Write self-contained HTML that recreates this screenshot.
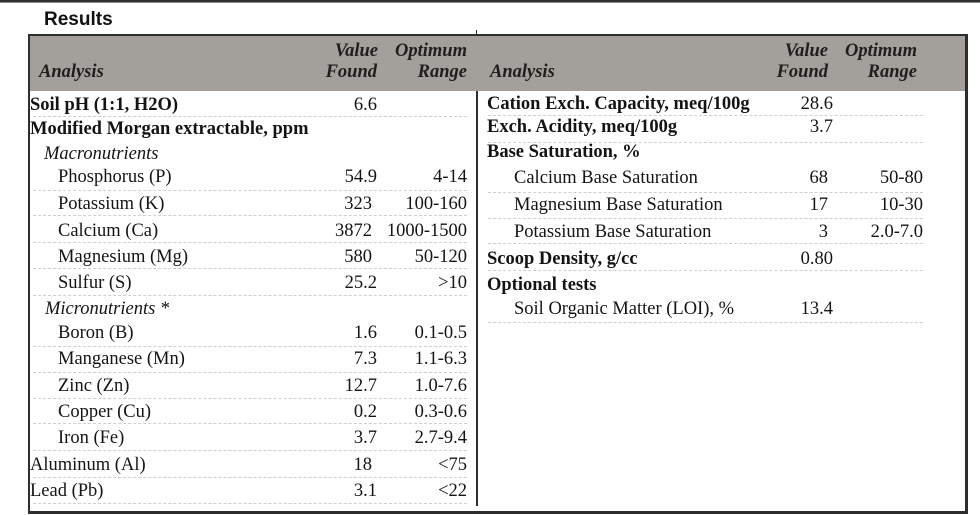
<!DOCTYPE html>
<html>
<head>
<meta charset="utf-8">
<style>
  html,body{margin:0;padding:0;background:#fff;}
  body{width:980px;height:515px;position:relative;overflow:hidden;
       font-family:"Liberation Serif","Times New Roman",serif;color:#141414;}
  .a{position:absolute;white-space:nowrap;font-size:18.5px;line-height:26px;height:26px;}
  .b{font-weight:bold;}
  .i{font-style:italic;}
  .h{font-weight:bold;font-style:italic;color:#1e1e1e;}
  .ln{position:absolute;height:0;border-top:1px dashed #cfcfcf;}
  .blk{position:absolute;background:#2e2e2e;}
</style>
</head>
<body>
<!-- top rule -->
<div class="blk" style="left:0;top:0;width:980px;height:2px;"></div>
<div style="position:absolute;left:0;top:2px;width:980px;height:1px;background:#8a8a8a;"></div>

<!-- title -->
<div style="position:absolute;left:44px;top:10px;font-family:'Liberation Sans',Arial,sans-serif;font-weight:bold;font-size:19px;line-height:20px;color:#111;">Results</div>

<!-- header band -->
<div style="position:absolute;left:29px;top:36px;width:937px;height:55px;background:#a39f9a;"></div>

<!-- box borders -->
<div class="blk" style="left:28px;top:34px;width:940px;height:2px;"></div>
<div class="blk" style="left:28px;top:34px;width:2px;height:479px;"></div>
<div class="blk" style="left:965px;top:34px;width:3px;height:480px;"></div>
<div class="blk" style="left:28px;top:511px;width:940px;height:3px;"></div>
<div class="blk" style="left:476px;top:91px;width:2px;height:415px;"></div>
<div class="blk" style="left:476px;top:30px;width:1px;height:5px;"></div>

<!-- header text left -->
<div class="a h" style="left:39px;top:59px;">Analysis</div>
<div class="a h" style="right:602px;top:38px;">Value</div>
<div class="a h" style="right:603px;top:59px;">Found</div>
<div class="a h" style="right:513px;top:38px;">Optimum</div>
<div class="a h" style="right:513px;top:59px;">Range</div>

<!-- header text right -->
<div class="a h" style="left:490px;top:59px;">Analysis</div>
<div class="a h" style="right:152px;top:38px;">Value</div>
<div class="a h" style="right:152px;top:59px;">Found</div>
<div class="a h" style="right:63px;top:38px;">Optimum</div>
<div class="a h" style="right:63px;top:59px;">Range</div>

<!-- LEFT ROWS -->
<div class="a b" style="left:30px;top:92px;">Soil pH (1:1, H2O)</div>
<div class="a" style="right:603px;top:92px;">6.6</div>
<div class="ln" style="left:33px;width:434px;top:116px;"></div>

<div class="a b" style="left:30px;top:116px;">Modified Morgan extractable, ppm</div>

<div class="a i" style="left:44px;top:141px;">Macronutrients</div>

<div class="a" style="left:58px;top:164px;">Phosphorus (P)</div>
<div class="a" style="right:603px;top:164px;">54.9</div>
<div class="a" style="right:513px;top:164px;">4-14</div>
<div class="ln" style="left:33px;width:434px;top:190px;"></div>

<div class="a" style="left:58px;top:191px;">Potassium (K)</div>
<div class="a" style="right:608px;top:191px;">323</div>
<div class="a" style="right:513px;top:191px;">100-160</div>
<div class="ln" style="left:33px;width:434px;top:215px;"></div>

<div class="a" style="left:58px;top:218px;">Calcium (Ca)</div>
<div class="a" style="right:608px;top:218px;">3872</div>
<div class="a" style="right:513px;top:218px;">1000-1500</div>
<div class="ln" style="left:33px;width:434px;top:242px;"></div>

<div class="a" style="left:58px;top:244px;">Magnesium (Mg)</div>
<div class="a" style="right:608px;top:244px;">580</div>
<div class="a" style="right:513px;top:244px;">50-120</div>
<div class="ln" style="left:33px;width:434px;top:268px;"></div>

<div class="a" style="left:58px;top:270px;">Sulfur (S)</div>
<div class="a" style="right:603px;top:270px;">25.2</div>
<div class="a" style="right:513px;top:270px;">&gt;10</div>
<div class="ln" style="left:33px;width:434px;top:295px;"></div>

<div class="a i" style="left:45px;top:296px;">Micronutrients *</div>

<div class="a" style="left:58px;top:320px;">Boron (B)</div>
<div class="a" style="right:603px;top:320px;">1.6</div>
<div class="a" style="right:513px;top:320px;">0.1-0.5</div>
<div class="ln" style="left:33px;width:434px;top:346px;"></div>

<div class="a" style="left:58px;top:346px;">Manganese (Mn)</div>
<div class="a" style="right:603px;top:346px;">7.3</div>
<div class="a" style="right:513px;top:346px;">1.1-6.3</div>
<div class="ln" style="left:33px;width:434px;top:372px;"></div>

<div class="a" style="left:58px;top:373px;">Zinc (Zn)</div>
<div class="a" style="right:603px;top:373px;">12.7</div>
<div class="a" style="right:513px;top:373px;">1.0-7.6</div>
<div class="ln" style="left:33px;width:434px;top:398px;"></div>

<div class="a" style="left:58px;top:399px;">Copper (Cu)</div>
<div class="a" style="right:603px;top:399px;">0.2</div>
<div class="a" style="right:513px;top:399px;">0.3-0.6</div>
<div class="ln" style="left:33px;width:434px;top:423px;"></div>

<div class="a" style="left:58px;top:425px;">Iron (Fe)</div>
<div class="a" style="right:603px;top:425px;">3.7</div>
<div class="a" style="right:513px;top:425px;">2.7-9.4</div>
<div class="ln" style="left:33px;width:434px;top:450px;"></div>

<div class="a" style="left:30px;top:452px;">Aluminum (Al)</div>
<div class="a" style="right:608px;top:452px;">18</div>
<div class="a" style="right:513px;top:452px;">&lt;75</div>
<div class="ln" style="left:33px;width:434px;top:477px;"></div>

<div class="a" style="left:30px;top:478px;">Lead (Pb)</div>
<div class="a" style="right:603px;top:478px;">3.1</div>
<div class="a" style="right:513px;top:478px;">&lt;22</div>
<div class="ln" style="left:33px;width:434px;top:503px;"></div>

<!-- RIGHT ROWS -->
<div class="a b" style="left:487px;top:91px;">Cation Exch. Capacity, meq/100g</div>
<div class="a" style="right:147px;top:91px;">28.6</div>
<div class="ln" style="left:488px;width:435px;top:115px;"></div>

<div class="a b" style="left:487px;top:114px;">Exch. Acidity, meq/100g</div>
<div class="a" style="right:147px;top:114px;">3.7</div>
<div class="ln" style="left:488px;width:435px;top:142px;"></div>

<div class="a b" style="left:487px;top:139px;">Base Saturation, %</div>

<div class="a" style="left:514px;top:165px;">Calcium Base Saturation</div>
<div class="a" style="right:152px;top:165px;">68</div>
<div class="a" style="right:57px;top:165px;">50-80</div>
<div class="ln" style="left:488px;width:435px;top:192px;"></div>

<div class="a" style="left:514px;top:192px;">Magnesium Base Saturation</div>
<div class="a" style="right:152px;top:192px;">17</div>
<div class="a" style="right:57px;top:192px;">10-30</div>
<div class="ln" style="left:488px;width:435px;top:218px;"></div>

<div class="a" style="left:514px;top:219px;">Potassium Base Saturation</div>
<div class="a" style="right:152px;top:219px;">3</div>
<div class="a" style="right:57px;top:219px;">2.0-7.0</div>
<div class="ln" style="left:488px;width:435px;top:243px;"></div>

<div class="a b" style="left:487px;top:246px;">Scoop Density, g/cc</div>
<div class="a" style="right:147px;top:246px;">0.80</div>
<div class="ln" style="left:488px;width:435px;top:270px;"></div>

<div class="a b" style="left:487px;top:272px;">Optional tests</div>

<div class="a" style="left:514px;top:296px;">Soil Organic Matter (LOI), %</div>
<div class="a" style="right:147px;top:296px;">13.4</div>
<div class="ln" style="left:488px;width:435px;top:322px;"></div>

</body>
</html>
